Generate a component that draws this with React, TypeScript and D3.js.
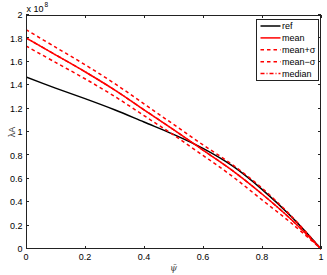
import * as d3 from 'd3';

// psi-bar grid and curves (units of 1e8)
const psi = [0, 0.1, 0.2, 0.3, 0.4, 0.5, 0.6, 0.7, 0.8, 0.9, 1.0];
const refValues = [1.47, 1.375, 1.285, 1.19, 1.085, 0.98, 0.86, 0.71, 0.51, 0.275, 0];
const meanValues = [1.805, 1.66, 1.515, 1.36, 1.19, 1.02, 0.845, 0.67, 0.47, 0.25, 0];
const meanPlusValues = [1.875, 1.725, 1.575, 1.415, 1.24, 1.065, 0.89, 0.72, 0.52, 0.28, 0];
const meanMinusValues = [1.735, 1.595, 1.455, 1.305, 1.14, 0.975, 0.8, 0.62, 0.42, 0.22, 0];
const medianValues = [1.805, 1.66, 1.515, 1.36, 1.19, 1.02, 0.845, 0.67, 0.47, 0.25, 0];

const legendLabels = ['ref', 'mean', 'mean+σ', 'mean−σ', 'median'];

const W = 327;
const H = 275;
const left = 26;
const right = 321;
const top = 15;
const bottom = 249;

const FONT = 'Liberation Sans, Arial, Helvetica, sans-serif';

export default function App() {
  const x = d3.scaleLinear().domain([0, 1]).range([left, right]);
  const y = d3.scaleLinear().domain([0, 2]).range([bottom, top]);

  const line = d3
    .line<number>()
    .x((_, i) => x(psi[i]))
    .y((d) => y(d))
    .curve(d3.curveCatmullRom);

  const series = [
    { values: refValues, color: '#000', dash: undefined as string | undefined },
    { values: meanValues, color: '#f00', dash: undefined },
    { values: meanPlusValues, color: '#f00', dash: '3.5,3' },
    { values: meanMinusValues, color: '#f00', dash: '3.5,3' },
    { values: medianValues, color: '#f00', dash: '4,2,1,2' },
  ];

  const xTicks = x.ticks(5);
  const yTicks = y.ticks(10);
  const fmt = (v: number) => String(+v.toFixed(1));
  const tl = 3;

  const legX = 256.5;
  const legY = 19.5;
  const legW = 62;
  const legH = 61;
  const rowH = 11.9;

  return (
    <div style={{ position: 'absolute', left: 0, top: 0 }}>
      <svg width={W} height={H} style={{ display: 'block', background: '#fff' }}>
        <defs>
          <clipPath id="plot-clip">
            <rect x={left} y={top - 2} width={right - left + 2} height={bottom - top + 4} />
          </clipPath>
        </defs>

        {/* curves */}
        <g clipPath="url(#plot-clip)">
          {series.map((s, i) => (
            <path
              key={i}
              d={line(s.values) ?? ''}
              fill="none"
              stroke={s.color}
              strokeWidth={1.5}
              strokeDasharray={s.dash}
            />
          ))}
        </g>

        {/* axes box */}
        <rect
          x={left + 0.5}
          y={top + 0.5}
          width={right - left - 1}
          height={bottom - top - 1}
          fill="none"
          stroke="#222"
          strokeWidth={1}
        />

        {/* x ticks */}
        {xTicks.map((t) => (
          <g key={'x' + t}>
            <line x1={Math.round(x(t)) + 0.5} x2={Math.round(x(t)) + 0.5} y1={bottom} y2={bottom - tl} stroke="#222" />
            <line x1={Math.round(x(t)) + 0.5} x2={Math.round(x(t)) + 0.5} y1={top} y2={top + tl} stroke="#222" />
            <text
              x={x(t)}
              y={260}
              textAnchor="middle"
              fontFamily={FONT}
              fontSize={9}
              fill="#000"
            >
              {fmt(t)}
            </text>
          </g>
        ))}

        {/* y ticks */}
        {yTicks.map((t) => (
          <g key={'y' + t}>
            <line x1={left} x2={left + tl} y1={Math.round(y(t)) - 0.5} y2={Math.round(y(t)) - 0.5} stroke="#222" />
            <line x1={right} x2={right - tl} y1={Math.round(y(t)) - 0.5} y2={Math.round(y(t)) - 0.5} stroke="#222" />
            <text
              x={22.5}
              y={y(t)}
              dy="0.35em"
              textAnchor="end"
              fontFamily={FONT}
              fontSize={9}
              fill="#000"
            >
              {fmt(t)}
            </text>
          </g>
        ))}

        {/* exponent label */}
        <text x={26.5} y={11.5} fontFamily={FONT} fontSize={9} fill="#000">
          x 10
        </text>
        <text x={44.5} y={7} fontFamily={FONT} fontSize={6.5} fill="#000">
          8
        </text>

        {/* axis labels */}
        <text
          transform={`translate(15,${(top + bottom) / 2}) rotate(-90)`}
          textAnchor="middle"
          fontFamily={FONT}
          fontSize={9}
          fill="#444"
        >
          λA
        </text>
        <text
          x={173.5}
          y={271}
          textAnchor="middle"
          fontFamily="DejaVu Serif, serif"
          fontStyle="italic"
          fontSize={9}
          fill="#444"
        >
          ψ̄
        </text>

        {/* legend */}
        <rect x={legX} y={legY} width={legW} height={legH} fill="#fff" stroke="#222" strokeWidth={1} />
        {legendLabels.map((label, i) => {
          const s = series[i];
          const ly = legY + 6.5 + i * rowH;
          return (
            <g key={label}>
              <line
                x1={legX + 4}
                x2={legX + 24}
                y1={ly}
                y2={ly}
                stroke={s.color}
                strokeWidth={1.5}
                strokeDasharray={s.dash}
              />
              <text
                x={legX + 25.5}
                y={ly}
                dy="0.35em"
                fontFamily={FONT}
                fontSize={9}
                fill="#000"
              >
                {label}
              </text>
            </g>
          );
        })}
      </svg>
    </div>
  );
}
